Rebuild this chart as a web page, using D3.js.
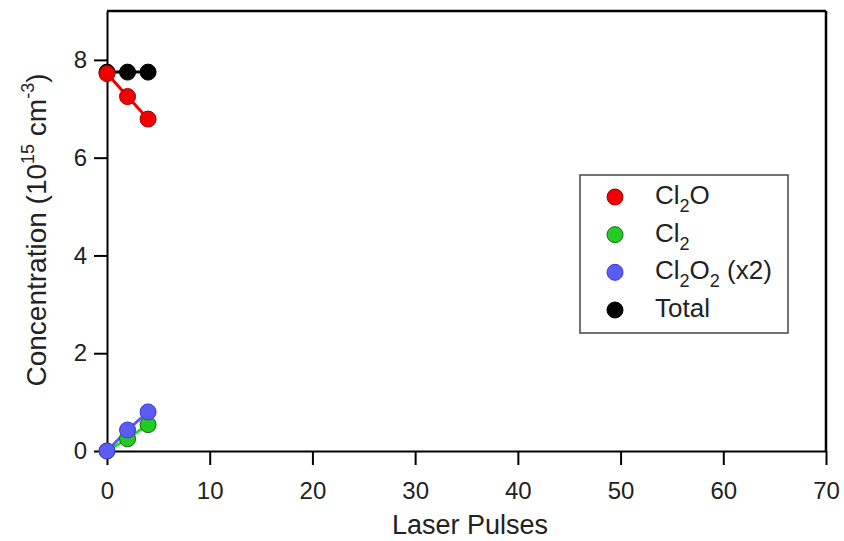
<!DOCTYPE html>
<html>
<head>
<meta charset="utf-8">
<script src="https://cdn.jsdelivr.net/npm/d3@7"></script>
<style>
  body { margin: 0; background: #fff; }
  svg { font-family: "Liberation Sans", Arial, sans-serif; }
  .axis path, .axis line { stroke: #000; stroke-width: 2; }
  .axis text { font-size: 24px; fill: #222; font-family: "Liberation Sans", Arial, sans-serif; }
</style>
</head>
<body>
<svg id="chart" width="844" height="541"></svg>
<script>
// data
const pulses = [0, 2, 4];
const cl2o = [7.72, 7.25, 6.79];
const cl2 = [0, 0.25, 0.54];
const cl2o2x2 = [0, 0.43, 0.80];
const total = [7.75, 7.75, 7.75];

const xTicks = [0, 10, 20, 30, 40, 50, 60, 70];
const yTicks = [0, 2, 4, 6, 8];

const series = [
  { name: 'Total', values: total, fill: '#000', stroke: '#000', line: '#000' },
  { name: 'Cl2O', values: cl2o, fill: '#f00000', stroke: '#a00000', line: '#f00000' },
  { name: 'Cl2', values: cl2, fill: '#22cc22', stroke: '#116611', line: '#22dd22' },
  { name: 'Cl2O2', values: cl2o2x2, fill: '#5c5cf5', stroke: '#3a3ad0', line: '#5c5cf5' },
];

const margin = { left: 107, right: 18, top: 11, bottom: 90 };
const width = 844, height = 541;

const svg = d3.select('#chart');

const x = d3.scaleLinear().domain([0, 70]).range([margin.left, width - margin.right]);
const y = d3.scaleLinear().domain([0, 9]).range([height - margin.bottom, margin.top]);

// frame: top and right edges
svg.append('line')
  .attr('x1', x(0)).attr('x2', x(70))
  .attr('y1', y(9)).attr('y2', y(9))
  .attr('stroke', '#000').attr('stroke-width', 2.5);
svg.append('line')
  .attr('x1', x(70)).attr('x2', x(70))
  .attr('y1', y(9)).attr('y2', y(0))
  .attr('stroke', '#000').attr('stroke-width', 2.5);

svg.append('g')
  .attr('class', 'axis')
  .attr('transform', `translate(0,${y(0)})`)
  .call(d3.axisBottom(x).tickValues(xTicks).tickSize(14).tickSizeOuter(0).tickPadding(17));

svg.append('g')
  .attr('class', 'axis')
  .attr('transform', `translate(${x(0)},0)`)
  .call(d3.axisLeft(y).tickValues(yTicks).tickSize(13).tickSizeOuter(0).tickPadding(7));

svg.selectAll('.axis path').attr('stroke-width', 2.5);

// axis titles
svg.append('text')
  .attr('x', 470)
  .attr('y', 534)
  .attr('text-anchor', 'middle')
  .attr('font-size', 27)
  .attr('fill', '#222')
  .text('Laser Pulses');

const yTitle = svg.append('text')
  .attr('transform', `translate(46,230) rotate(-90)`)
  .attr('text-anchor', 'middle')
  .attr('font-size', 28)
  .attr('fill', '#222');
yTitle.append('tspan').text('Concentration (10');
yTitle.append('tspan').attr('dy', -12).attr('font-size', 18).text('15');
yTitle.append('tspan').attr('dy', 12).text(' cm');
yTitle.append('tspan').attr('dy', -12).attr('font-size', 18).text('-3');
yTitle.append('tspan').attr('dy', 12).text(')');

// lines and markers
const lineGen = d3.line()
  .x((d, i) => x(pulses[i]))
  .y((d) => y(d));

series.forEach((s) => {
  svg.append('path')
    .datum(s.values)
    .attr('d', lineGen)
    .attr('fill', 'none')
    .attr('stroke', s.line)
    .attr('stroke-width', 3);
});

// black first, so red sits on top at x=0, and blue on top of green
series.forEach((s) => {
  svg.selectAll(null)
    .data(s.values)
    .enter()
    .append('circle')
    .attr('cx', (d, i) => x(pulses[i]))
    .attr('cy', (d) => y(d))
    .attr('r', 8)
    .attr('fill', s.fill)
    .attr('stroke', s.stroke)
    .attr('stroke-width', 1);
});

// legend
const legendItems = [
  { label: ['Cl', '2', 'O'], s: series[1] },
  { label: ['Cl', '2'], s: series[2] },
  { label: ['Cl', '2', 'O', '2', ' (x2)'], s: series[3] },
  { label: ['Total'], s: series[0] },
];

const legend = svg.append('g');
legend.append('rect')
  .attr('x', 580).attr('y', 175)
  .attr('width', 208).attr('height', 158)
  .attr('fill', '#fff')
  .attr('stroke', '#444')
  .attr('stroke-width', 1.5);

const rowY = d3.scaleLinear().domain([0, 3]).range([197, 310]);

legendItems.forEach((item, i) => {
  legend.append('circle')
    .attr('cx', 615).attr('cy', rowY(i))
    .attr('r', 8)
    .attr('fill', item.s.fill)
    .attr('stroke', item.s.stroke)
    .attr('stroke-width', 1);
  const t = legend.append('text')
    .attr('x', 655).attr('y', rowY(i) + 7)
    .attr('font-size', 26)
    .attr('fill', '#222');
  item.label.forEach((part, j) => {
    // odd parts are subscripts
    const ts = t.append('tspan').text(part);
    if (item.label.length > 1 && j % 2 === 1) ts.attr('dy', 8).attr('font-size', 18);
    else if (j > 0) ts.attr('dy', -8);
  });
});
</script>
</body>
</html>
